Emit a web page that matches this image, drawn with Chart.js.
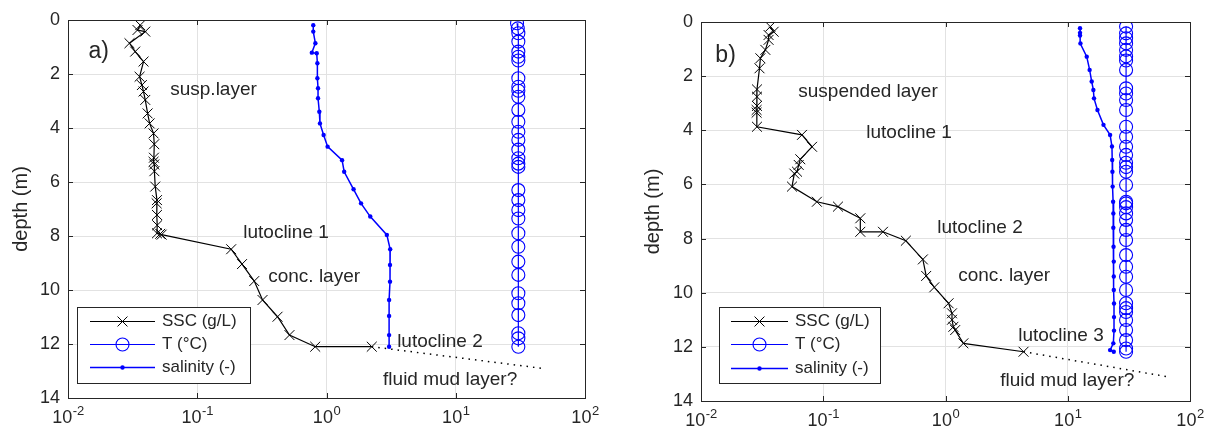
<!DOCTYPE html>
<html><head><meta charset="utf-8">
<script src="https://cdn.jsdelivr.net/npm/chart.js@4.4.0/dist/chart.umd.min.js"></script>
<style>
html,body{margin:0;padding:0;background:#fff;width:1212px;height:436px;overflow:hidden}
.p{position:absolute;top:0;width:606px;height:436px}
#pa{left:0}#pb{left:606px}
</style></head><body>
<div class="p" id="pa"><canvas id="ca" width="606" height="436"></canvas></div>
<div class="p" id="pb"><canvas id="cb" width="606" height="436"></canvas></div>
<script>
// ---------- tick labels ----------
const depthMin = 0, depthMax = 14, depthStep = 2;
const xTickPowers = [-2, -1, 0, 1, 2];
const seriesLabels = ['SSC (g/L)', 'T (\u00B0C)', 'salinity (-)'];

// ---------- panel a ----------
const aSscDepth = [0.19,0.37,0.43,0.86,1.17,1.54,2.10,2.41,2.65,2.96,3.46,3.83,4.20,4.60,5.10,5.25,5.35,5.60,6.17,6.67,6.79,7.22,7.60,7.90,7.92,7.95,8.49,9.04,9.67,10.37,10.99,11.67,12.10,12.10];
const aSscValue = [0.0362,0.0345,0.0396,0.0299,0.0331,0.0384,0.0358,0.0373,0.0384,0.0396,0.0413,0.0428,0.0459,0.0465,0.0462,0.0459,0.0465,0.0466,0.0473,0.0488,0.0485,0.0488,0.0490,0.0488,0.0517,0.0530,0.183,0.222,0.276,0.320,0.418,0.517,0.818,2.24];
const aTDepth = [0.12,0.31,0.49,0.80,1.17,1.36,1.50,2.16,2.47,2.62,2.84,3.33,3.77,4.14,4.44,4.80,5.12,5.32,5.44,6.30,6.67,7.04,7.35,7.90,8.40,8.95,9.44,10.12,10.49,10.93,11.60,11.79,12.10];
const aTValue = [29.8,30.2,30.5,30.5,30.5,30.5,30.5,30.5,30.5,30.5,30.5,30.5,30.5,30.5,30.5,30.5,30.5,30.5,30.5,30.5,30.5,30.5,30.5,30.5,30.5,30.5,30.5,30.5,30.5,30.5,30.5,30.5,30.5];
const aSalDepth = [0.19,0.43,0.86,1.21,1.23,1.60,2.16,2.53,2.90,3.40,3.83,4.26,4.69,5.19,5.62,6.27,6.79,7.28,7.96,8.49,9.07,9.69,10.37,10.96,11.67,12.10];
const aSalValue = [0.79,0.79,0.82,0.77,0.84,0.85,0.85,0.86,0.86,0.88,0.89,0.95,1.02,1.32,1.37,1.62,1.85,2.18,2.93,3.11,3.10,3.10,3.05,3.05,3.05,3.05];
const aMudDepth = [12.10, 12.90];
const aMudValue = [2.24, 46.3];
const aNotes = ['a)', 'susp.layer', 'lutocline 1', 'conc. layer', 'lutocline 2', 'fluid mud layer?'];
const aNoteValue = [0.0144, 0.0618, 0.227, 0.354, 3.52, 2.74];
const aNoteDepth = [1.19, 2.59, 7.89, 9.52, 11.93, 13.33];

// ---------- panel b ----------
const bSscDepth = [0.17,0.36,0.48,0.66,1.03,1.34,1.71,2.49,2.76,3.10,3.25,3.35,3.87,4.17,4.61,5.07,5.28,5.53,5.60,6.08,6.64,6.82,7.25,7.75,7.75,8.08,8.77,9.38,9.80,10.39,10.76,11.00,11.26,11.38,11.87,12.18];
const bSscValue = [0.0369,0.0393,0.0357,0.0357,0.0336,0.0306,0.0301,0.0287,0.0287,0.0287,0.0285,0.0285,0.0287,0.067,0.081,0.0649,0.063,0.061,0.058,0.0555,0.0887,0.132,0.201,0.201,0.308,0.474,0.653,0.695,0.81,1.06,1.13,1.13,1.16,1.20,1.40,4.35];
const bTDepth = [0.17,0.42,0.60,0.79,1.03,1.27,1.42,1.77,2.45,2.64,2.88,3.25,3.87,4.24,4.61,4.91,5.20,5.36,5.53,6.02,6.64,6.70,6.84,7.07,7.31,7.68,8.05,8.61,9.04,9.41,9.90,10.39,10.57,10.71,11.01,11.38,11.75,12.06,12.18];
const bTValue = [30.0,30.0,30.0,30.0,30.0,30.0,30.0,30.0,30.0,30.0,30.0,30.0,30.0,30.0,30.0,30.0,30.0,30.0,30.0,30.0,30.0,30.0,30.0,30.0,30.0,30.0,30.0,30.0,30.0,30.0,30.0,30.0,30.0,30.0,30.0,30.0,30.0,30.0,30.0];
const bSalDepth = [0.23,0.40,0.50,0.79,1.28,1.77,2.20,2.51,2.82,3.25,3.80,4.17,4.60,5.10,5.53,6.08,6.64,7.07,7.60,8.30,8.85,9.40,9.90,10.40,10.90,11.40,11.87,12.12,12.18];
const bSalValue = [12.6,12.6,12.6,12.7,14.3,15.1,15.7,16.2,16.4,17.5,19.6,22.2,23.0,23.1,23.2,23.3,23.5,23.6,23.6,23.7,23.8,23.8,23.8,23.9,23.9,23.9,23.6,22.2,23.8];
const bMudDepth = [12.18, 13.10];
const bMudValue = [4.35, 64.6];
const bNotes = ['b)', 'suspended layer', 'lutocline 1', 'lutocline 2', 'conc. layer', 'lutocline 3', 'fluid mud layer?'];
const bNoteValue = [0.0131, 0.0625, 0.225, 0.855, 1.27, 3.93, 2.80];
const bNoteDepth = [1.26, 2.59, 4.10, 7.61, 9.38, 11.60, 13.26];

// ---------- helpers ----------
const FONT = "'Liberation Sans', Arial, Helvetica, sans-serif";
const AX = '#262626';
const GRID = '#e2e2e2';
const BLUE = '#0000ff';
const zip = (vals, deps) => vals.map((v, i) => ({x: v, y: deps[i]}));

const matlabPlugin = {
  id: 'matlab',
  afterDraw(chart, args, o) {
    const ctx = chart.ctx, ca = chart.chartArea;
    const xs = chart.scales.x, ys = chart.scales.y;
    ctx.save();
    // box
    ctx.strokeStyle = AX; ctx.lineWidth = 1;
    ctx.strokeRect(Math.round(ca.left) + 0.5, Math.round(ca.top) + 0.5,
                   Math.round(ca.right - ca.left), Math.round(ca.bottom - ca.top));
    // inward ticks
    const tl = 5;
    ctx.beginPath();
    xTickPowers.forEach(p => {
      const x = Math.round(xs.getPixelForValue(Math.pow(10, p))) + 0.5;
      ctx.moveTo(x, ca.bottom); ctx.lineTo(x, ca.bottom - tl);
      ctx.moveTo(x, ca.top); ctx.lineTo(x, ca.top + tl);
    });
    ys.ticks.forEach(t => {
      const y = Math.round(ys.getPixelForValue(t.value)) + 0.5;
      ctx.moveTo(ca.left, y); ctx.lineTo(ca.left + tl, y);
      ctx.moveTo(ca.right, y); ctx.lineTo(ca.right - tl, y);
    });
    ctx.stroke();
    // x tick labels 10^p
    ctx.fillStyle = AX; ctx.textBaseline = 'alphabetic'; ctx.textAlign = 'left';
    xTickPowers.forEach(p => {
      const x = xs.getPixelForValue(Math.pow(10, p));
      const base = '10', ex = String(p);
      ctx.font = '18px ' + FONT; const w1 = ctx.measureText(base).width;
      ctx.font = '13px ' + FONT; const w2 = ctx.measureText(ex).width;
      const x0 = x - (w1 + w2) / 2, yb = ca.bottom + 25;
      ctx.font = '18px ' + FONT; ctx.fillText(base, x0, yb);
      ctx.font = '13px ' + FONT; ctx.fillText(ex, x0 + w1 + 0.5, yb - 8);
    });
    // annotations
    ctx.textBaseline = 'middle';
    o.notes.forEach((t, i) => {
      ctx.font = (i === 0 ? '23px ' : '19px ') + FONT;
      ctx.fillText(t, xs.getPixelForValue(o.noteValue[i]), ys.getPixelForValue(o.noteDepth[i]));
    });
    // legend
    const L = o.legend;
    ctx.fillStyle = '#fff';
    ctx.fillRect(L.x, L.y, L.w, L.h);
    ctx.strokeStyle = AX; ctx.lineWidth = 1;
    ctx.strokeRect(L.x + 0.5, L.y + 0.5, L.w, L.h);
    chart.data.datasets.slice(0, 3).forEach((ds, i) => {
      const y = L.rows[i] + 0.5;
      ctx.strokeStyle = ds.borderColor; ctx.lineWidth = ds.borderWidth;
      ctx.setLineDash([]);
      ctx.beginPath(); ctx.moveTo(L.x1, y); ctx.lineTo(L.x2, y); ctx.stroke();
      ctx.fillStyle = ds.pointBackgroundColor; ctx.strokeStyle = ds.pointBorderColor;
      ctx.lineWidth = ds.pointBorderWidth;
      Chart.helpers.drawPoint(ctx, {pointStyle: ds.pointStyle, rotation: 0, radius: ds.pointRadius,
        borderWidth: ds.pointBorderWidth}, (L.x1 + L.x2) / 2, y);
      ctx.fillStyle = AX; ctx.font = '17px ' + FONT; ctx.textBaseline = 'middle';
      ctx.fillText(ds.label, L.tx, y);
    });
    ctx.restore();
  }
};

function makeChart(id, cfg) {
  const datasets = [
    {label: seriesLabels[0], data: zip(cfg.ssc[1], cfg.ssc[0]), showLine: true,
     borderColor: '#000', borderWidth: 1.2, pointStyle: 'crossRot', pointRadius: 7,
     pointBorderColor: '#000', pointBackgroundColor: '#000', pointBorderWidth: 1, order: 3},
    {label: seriesLabels[1], data: zip(cfg.t[1], cfg.t[0]), showLine: true,
     borderColor: BLUE, borderWidth: 1.2, pointStyle: 'circle', pointRadius: 6.5,
     pointBorderColor: BLUE, pointBackgroundColor: 'rgba(0,0,0,0)', pointBorderWidth: 1.1, order: 2},
    {label: seriesLabels[2], data: zip(cfg.sal[1], cfg.sal[0]), showLine: true,
     borderColor: BLUE, borderWidth: 1.5, pointStyle: 'circle', pointRadius: 2.2,
     pointBorderColor: BLUE, pointBackgroundColor: BLUE, pointBorderWidth: 0, order: 1},
    {label: 'mud', data: zip(cfg.mud[1], cfg.mud[0]), showLine: true,
     borderColor: '#000', borderWidth: 1.5, borderDash: [1.5, 5], pointRadius: 0, order: 4}
  ];
  return new Chart(document.getElementById(id), {
    type: 'scatter',
    data: {datasets},
    plugins: [matlabPlugin],
    options: {
      responsive: false, animation: false, devicePixelRatio: 1, events: [],
      layout: {padding: {left: 0, top: cfg.top, right: cfg.right, bottom: 0}},
      elements: {line: {tension: 0}},
      plugins: {
        legend: {display: false}, tooltip: {enabled: false},
        matlab: {notes: cfg.notes, noteValue: cfg.noteValue, noteDepth: cfg.noteDepth, legend: cfg.legend}
      },
      scales: {
        x: {type: 'logarithmic', position: 'bottom', min: 0.01, max: 100,
            afterBuildTicks: s => { s.ticks = xTickPowers.map(p => ({value: Math.pow(10, p)})); },
            ticks: {display: false},
            grid: {color: GRID, drawTicks: false, lineWidth: 1},
            border: {display: true, color: AX, width: 1},
            afterFit: s => { s.height = cfg.xh; }},
        y: {type: 'linear', reverse: true, min: depthMin, max: depthMax,
            ticks: {stepSize: depthStep, padding: 8, color: AX, font: {family: FONT, size: 18}},
            grid: {color: GRID, drawTicks: false, lineWidth: 1},
            border: {display: true, color: AX, width: 1},
            title: {display: true, text: 'depth (m)', color: AX, font: {family: FONT, size: 20},
                    padding: {top: cfg.titlePad, bottom: 0}},
            afterFit: s => { s.width = cfg.yw; }}
      }
    }
  });
}

makeChart('ca', {
  ssc: [aSscDepth, aSscValue], t: [aTDepth, aTValue], sal: [aSalDepth, aSalValue], mud: [aMudDepth, aMudValue],
  notes: aNotes, noteValue: aNoteValue, noteDepth: aNoteDepth,
  top: 20, right: 21, xh: 38, yw: 68, titlePad: 9,
  legend: {x: 77, y: 307, w: 173, h: 76, x1: 90, x2: 155, tx: 162, rows: [321, 344, 367]}
});
makeChart('cb', {
  ssc: [bSscDepth, bSscValue], t: [bTDepth, bTValue], sal: [bSalDepth, bSalValue], mud: [bMudDepth, bMudValue],
  notes: bNotes, noteValue: bNoteValue, noteDepth: bNoteDepth,
  top: 22, right: 22, xh: 35, yw: 95, titlePad: 35,
  legend: {x: 113, y: 307, w: 161, h: 76, x1: 125, x2: 182, tx: 189, rows: [321, 344, 368]}
});
</script>
</body></html>
